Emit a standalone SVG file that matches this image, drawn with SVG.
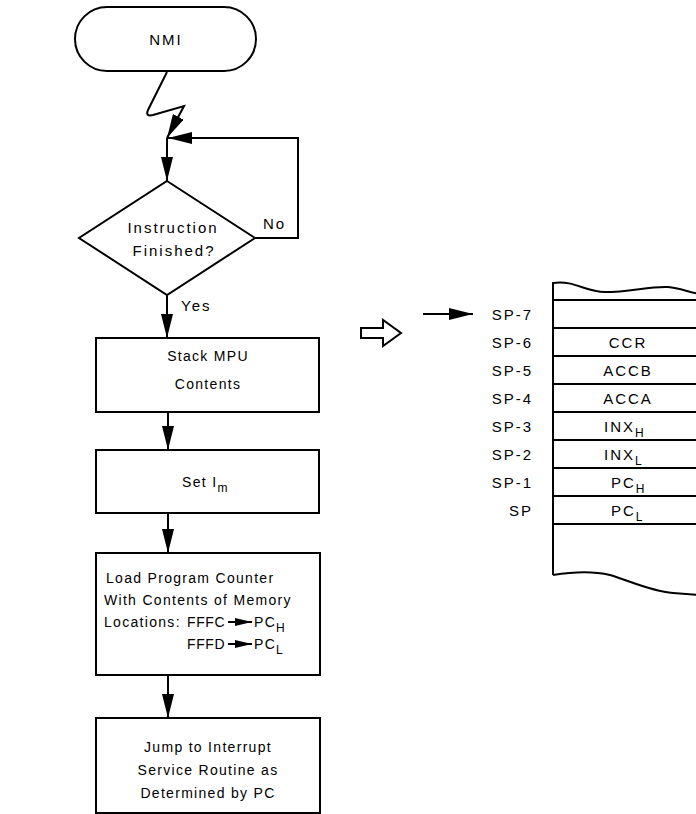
<svg xmlns="http://www.w3.org/2000/svg" width="696" height="814" viewBox="0 0 696 814">
<style>
.t{font-family:"Liberation Sans",Arial,sans-serif;font-size:14px;letter-spacing:1.3px;fill:#000}
.d{font-size:15px;letter-spacing:2px}
.c{text-anchor:middle}
.e{text-anchor:end}
.n{letter-spacing:0.6px}
.s{font-size:12px;letter-spacing:0.5px}
.ln{fill:none;stroke:#000;stroke-width:2}
.bx{fill:#fff;stroke:#000;stroke-width:2}
</style>
<defs>
<marker id="ah" viewBox="0 0 24 12" refX="24" refY="6" markerWidth="24" markerHeight="12" markerUnits="userSpaceOnUse" orient="auto"><path d="M0,0 L24,6 L0,12 z" fill="#000"/></marker>
<marker id="ahs" viewBox="0 0 17 8" refX="17" refY="4" markerWidth="17" markerHeight="8" markerUnits="userSpaceOnUse" orient="auto"><path d="M0,0 L17,4 L0,8 z" fill="#000"/></marker>
</defs>
<rect width="696" height="814" fill="#fff"/>
<g id="connectors">
<path class="ln" d="M167,72 L148,110 Q145,117 153,115 L184,106 L167,138" marker-end="url(#ah)"/>
<path class="ln" d="M255,238 H298 V138 H168" marker-end="url(#ah)"/>
<path class="ln" d="M167,138 V181" marker-end="url(#ah)"/>
<path class="ln" d="M167,295 V338" marker-end="url(#ah)"/>
<path class="ln" d="M168,412 V450" marker-end="url(#ah)"/>
<path class="ln" d="M168,513 V553" marker-end="url(#ah)"/>
<path class="ln" d="M168,675 V718" marker-end="url(#ah)"/>
<path class="ln" d="M423,314 H473" marker-end="url(#ah)"/>
</g>
<g id="nmi">
<rect class="bx" x="75" y="7" width="181" height="64" rx="32" ry="32"/>
<text class="t d c" x="166" y="45">NMI</text>
</g>
<g id="decision">
<polygon class="bx" points="167,181 255,238 167,295 79,238"/>
<text class="t d c" x="173" y="233">Instruction</text>
<text class="t d c" x="174" y="256">Finished?</text>
<text class="t d" x="263" y="229">No</text>
<text class="t d" x="181" y="311">Yes</text>
</g>
<g id="stack-mpu">
<rect class="bx" x="96" y="338" width="223" height="74"/>
<text class="t c" x="208" y="361">Stack MPU</text>
<text class="t c" x="208" y="389">Contents</text>
</g>
<g id="set-im">
<rect class="bx" x="96" y="450" width="223" height="63"/>
<text class="t c" x="205" y="487">Set I<tspan class="s" dy="5">m</tspan></text>
</g>
<g id="load-pc">
<rect class="bx" x="96" y="553" width="224" height="122"/>
<text class="t" x="106" y="583">Load Program Counter</text>
<text class="t" x="104" y="605">With Contents of Memory</text>
<text class="t" x="104" y="627">Locations:</text>
<text class="t n" x="187" y="627">FFFC</text>
<text class="t n" x="187" y="649">FFFD</text>
<path class="ln" d="M228,622 H252" marker-end="url(#ahs)"/>
<path class="ln" d="M228,644 H252" marker-end="url(#ahs)"/>
<text class="t" x="254" y="627">PC<tspan class="s" dy="5">H</tspan></text>
<text class="t" x="254" y="649">PC<tspan class="s" dy="5">L</tspan></text>
</g>
<g id="jump">
<rect class="bx" x="96" y="718" width="224" height="95"/>
<text class="t c" x="208" y="752">Jump to Interrupt</text>
<text class="t c" x="208" y="775">Service Routine as</text>
<text class="t c" x="208" y="798">Determined by PC</text>
</g>
<g id="hollow-arrow">
<path d="M361,328 H383 V320 L401,333 L383,346 V338 H361 z" fill="#fff" stroke="#000" stroke-width="2"/>
</g>
<g id="stack">
<path class="ln" d="M553,575 V283 C575,280 585,292 605,292 C630,292 650,286 668,287 C680,288 688,292 700,294"/>
<path class="ln" d="M553,575 C565,573 590,570 610,575 C630,581 650,591 673,593 L700,595"/>
<path class="ln" d="M553,300 H700 M553,328 H700 M553,356 H700 M553,384 H700 M553,412 H700 M553,440 H700 M553,468 H700 M553,496 H700 M553,524 H700"/>
<text class="t d e" x="533" y="320">SP-7</text>
<text class="t d e" x="533" y="348">SP-6</text>
<text class="t d e" x="533" y="376">SP-5</text>
<text class="t d e" x="533" y="404">SP-4</text>
<text class="t d e" x="533" y="432">SP-3</text>
<text class="t d e" x="533" y="460">SP-2</text>
<text class="t d e" x="533" y="488">SP-1</text>
<text class="t d e" x="533" y="516">SP</text>
<text class="t d c" x="628" y="348">CCR</text>
<text class="t d c" x="628" y="376">ACCB</text>
<text class="t d c" x="628" y="404">ACCA</text>
<text class="t d" x="604" y="432">INX<tspan class="s" dy="5">H</tspan></text>
<text class="t d" x="604" y="460">INX<tspan class="s" dy="5">L</tspan></text>
<text class="t d" x="611" y="488">PC<tspan class="s" dy="5">H</tspan></text>
<text class="t d" x="611" y="516">PC<tspan class="s" dy="5">L</tspan></text>
</g>
</svg>
